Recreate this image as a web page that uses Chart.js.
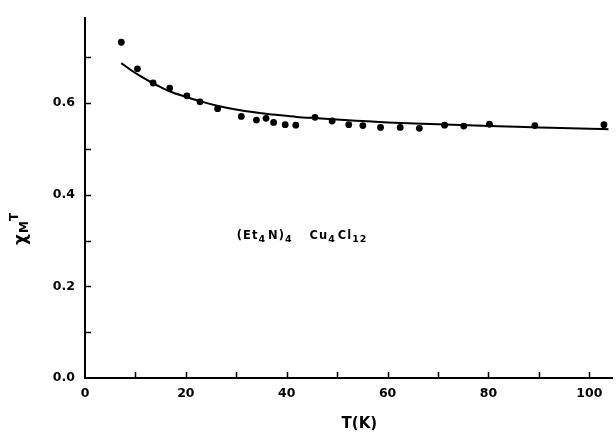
<!DOCTYPE html>
<html>
<head>
<meta charset="utf-8">
<script src="https://cdn.jsdelivr.net/npm/chart.js@4"></script>
<style>
  html, body { margin: 0; padding: 0; background: #fff; }
  #c { display: block; }
</style>
</head>
<body>
<canvas id="c" width="616" height="435"></canvas>
<script>
// Measured data points: temperature T (K) and chi_M*T
const pointT = [7.2, 10.4, 13.5, 16.8, 20.2, 22.8, 26.3, 31.0, 34.0, 35.9, 37.4, 39.7, 41.8, 45.6, 49.0, 52.3, 55.1, 58.6, 62.5, 66.3, 71.3, 75.1, 80.2, 89.2, 102.9];
const pointChiT = [0.733, 0.675, 0.644, 0.633, 0.616, 0.603, 0.588, 0.571, 0.563, 0.567, 0.558, 0.553, 0.552, 0.569, 0.561, 0.553, 0.551, 0.547, 0.547, 0.545, 0.552, 0.550, 0.554, 0.551, 0.553];

// Fitted curve
const curveT = [7.2, 9, 11, 13.4, 15, 17, 20, 22.6, 26, 30.5, 35, 38.3, 42, 46.2, 51.5, 55, 60, 70, 80.3, 90, 100, 103.8];
const curveChiT = [0.6875, 0.673, 0.659, 0.644, 0.635, 0.625, 0.614, 0.605, 0.595, 0.585, 0.578, 0.574, 0.570, 0.567, 0.563, 0.561, 0.558, 0.554, 0.550, 0.547, 0.544, 0.543];

// Axis ticks
const xTickValues = [0, 10, 20, 30, 40, 50, 60, 70, 80, 90, 100];
const xTickLabels = ['0', '', '20', '', '40', '', '60', '', '80', '', '100'];
const yTickValues = [0, 0.1, 0.2, 0.3, 0.4, 0.5, 0.6, 0.7];
const yTickLabels = ['0.0', '', '0.2', '', '0.4', '', '0.6', ''];

const FONT = 'DejaVu Sans';

const decorPlugin = {
  id: 'decor',
  afterDraw(chart) {
    const ctx = chart.ctx;
    const xs = chart.scales.x, ys = chart.scales.y;
    const area = chart.chartArea;
    ctx.save();
    ctx.strokeStyle = '#000';
    ctx.lineWidth = 1.5;
    // inward tick marks
    xs.ticks.forEach(t => {
      const px = Math.round(xs.getPixelForValue(t.value)) + 0.5;
      if (t.value === 0) return;
      ctx.beginPath();
      ctx.moveTo(px, area.bottom);
      ctx.lineTo(px, area.bottom - 6);
      ctx.stroke();
    });
    ys.ticks.forEach(t => {
      const py = Math.round(ys.getPixelForValue(t.value)) + 0.5;
      if (t.value === 0) return;
      ctx.beginPath();
      ctx.moveTo(area.left, py);
      ctx.lineTo(area.left + 6, py);
      ctx.stroke();
    });
    ctx.fillStyle = '#000';
    // x axis title
    ctx.font = 'bold 15px "' + FONT + '"';
    ctx.textAlign = 'center';
    ctx.textBaseline = 'middle';
    ctx.fillText('T(K)', xs.getPixelForValue(54.4), 424);

    // y axis title: chi_M T (rotated)
    ctx.save();
    ctx.translate(27, 245);
    ctx.rotate(-Math.PI / 2);
    ctx.textAlign = 'left';
    ctx.textBaseline = 'alphabetic';
    let cx = 0;
    ctx.font = 'bold 17px "' + FONT + '"';
    ctx.fillText('χ', cx, -1);
    cx += ctx.measureText('χ').width + 1;
    ctx.font = 'bold 12px "' + FONT + '"';
    ctx.fillText('M', cx, 1);
    cx += ctx.measureText('M').width;
    ctx.fillText('T', cx, -9);
    ctx.restore();

    // compound label
    const parts = [
      ['(Et', 0], ['4', 1], ['N)', 0], ['4', 1], ['   Cu', 0], ['4', 1], ['Cl', 0], ['12', 1]
    ];
    let tx = xs.getPixelForValue(30.1);
    const ty = ys.getPixelForValue(0.313) + 4;
    ctx.textAlign = 'left';
    ctx.textBaseline = 'alphabetic';
    if ('letterSpacing' in ctx) ctx.letterSpacing = '1px';
    parts.forEach(([s, sub]) => {
      ctx.font = sub ? 'bold 9.5px "' + FONT + '"' : 'bold 11.5px "' + FONT + '"';
      ctx.fillText(s, tx, sub ? ty + 3 : ty);
      tx += ctx.measureText(s).width + (sub ? 2 : 0);
    });
    ctx.restore();
  }
};

new Chart(document.getElementById('c'), {
  type: 'scatter',
  data: {
    datasets: [
      {
        data: pointT.map((t, i) => ({ x: t, y: pointChiT[i] })),
        pointRadius: 3.4,
        pointBackgroundColor: '#000',
        pointBorderWidth: 0,
        showLine: false
      },
      {
        data: curveT.map((t, i) => ({ x: t, y: curveChiT[i] })),
        showLine: true,
        pointRadius: 0,
        borderColor: '#000',
        borderWidth: 2,
        cubicInterpolationMode: 'monotone',
        fill: false
      }
    ]
  },
  options: {
    responsive: false,
    animation: false,
    layout: { padding: { top: 13, left: 0, right: 0, bottom: 0 } },
    plugins: { legend: { display: false }, tooltip: { enabled: false } },
    scales: {
      x: {
        type: 'linear',
        min: 0,
        max: 104.5,
        afterBuildTicks: s => { s.ticks = xTickValues.map(v => ({ value: v })); },
        afterFit: s => { s.height = 57; },
        grid: { display: false, drawTicks: false },
        border: { display: true, color: '#000', width: 2 },
        ticks: {
          color: '#000',
          font: { family: FONT, size: 12.5, weight: 'bold' },
          padding: 8,
          maxRotation: 0,
          autoSkip: false,
          callback: (v, i) => xTickLabels[i]
        }
      },
      y: {
        type: 'linear',
        min: 0,
        max: 0.787,
        afterBuildTicks: s => { s.ticks = yTickValues.map(v => ({ value: v })); },
        afterFit: s => { s.width = 85; },
        grid: { display: false, drawTicks: false },
        border: { display: true, color: '#000', width: 2 },
        ticks: {
          color: '#000',
          font: { family: FONT, size: 12.5, weight: 'bold' },
          padding: 10,
          autoSkip: false,
          callback: (v, i) => yTickLabels[i]
        }
      }
    }
  },
  plugins: [decorPlugin]
});
</script>
</body>
</html>
